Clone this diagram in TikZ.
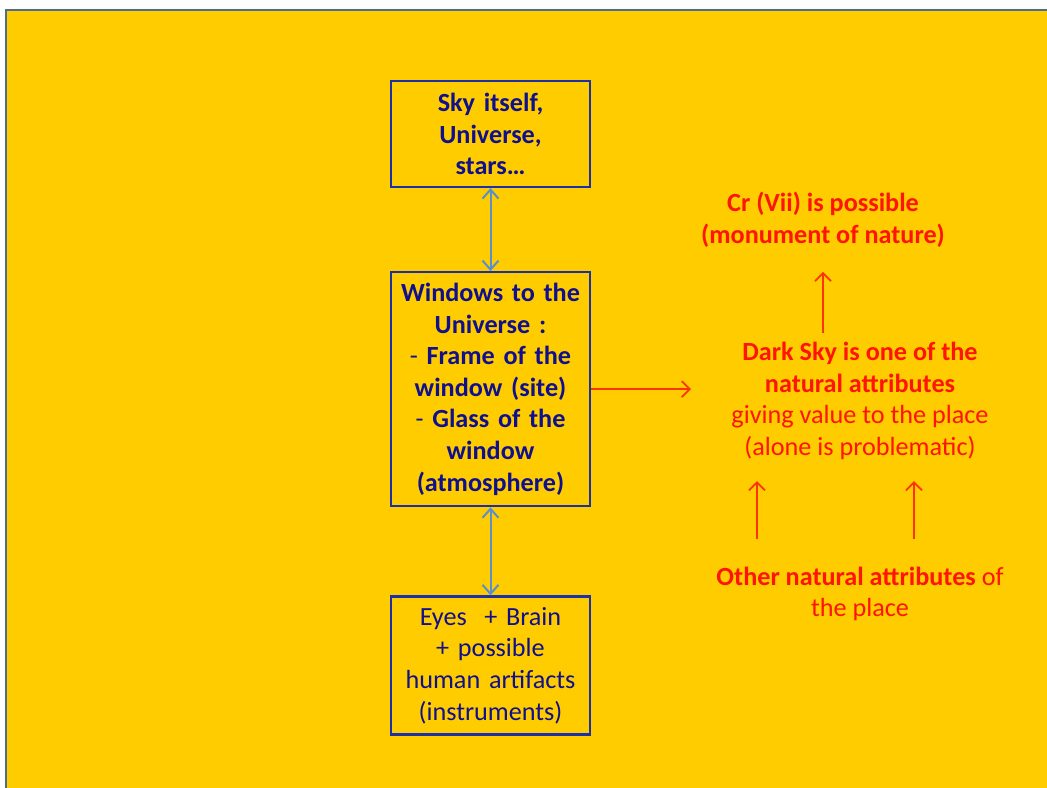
\documentclass[tikz,border=0pt]{standalone}
\usepackage{fontspec}
\setmainfont{Carlito}
\usepackage{xcolor}
\usetikzlibrary{positioning,arrows.meta,calc}
\definecolor{bgyellow}{HTML}{FFCC00}
\definecolor{framegray}{HTML}{4D6D8C}
\definecolor{boxblue}{HTML}{1C30A8}
\definecolor{navy}{HTML}{10108C}
\definecolor{skyarrow}{HTML}{5B8FC9}
\definecolor{redtext}{HTML}{FF1400}
\definecolor{redarrow}{HTML}{FF3300}

\begin{document}
\begin{tikzpicture}[x=0.5pt, y=-0.5pt,
  box/.style={draw=boxblue, line width=1.1pt, text width=96pt, minimum width=99.5pt, align=center,
    text=navy, font=\fontsize{13.1}{15.8}\selectfont, inner sep=1.5pt},
  lbl/.style={text=redtext, align=center, font=\fontsize{13.1}{15.8}\selectfont, inner sep=2pt},
  barr/.style={draw=skyarrow, line width=1pt, {Straight Barb[length=4.5pt, width=8pt]}-{Straight Barb[length=4.5pt, width=8pt]}},
  rarr/.style={draw=redarrow, line width=0.9pt, -{Straight Barb[length=4pt, width=8pt]}}]
\useasboundingbox (0,0) rectangle (1047,787);
\fill[white] (0,0) rectangle (1047,787);
\draw[framegray, line width=1pt, fill=bgyellow] (5.5,9.5) rectangle (1060,800);
% left column
\node[box, minimum height=53pt] (sky) at (490.5,134) {\bfseries Sky itself,\\ Universe,\\ stars\ldots};
\node[box, minimum height=117pt, below=41.5pt of sky] (win) {\bfseries Windows to the\\ Universe :\\
  \mdseries - \bfseries Frame of the\\ window (site)\\ \mdseries - \bfseries Glass of the\\ window\\ (atmosphere)};
\node[box, minimum height=69pt, below=44pt of win] (eyes) {Eyes~ + Brain\\ + possible\\ human artifacts\\ (instruments)};
\draw[barr] (sky) -- (win);
\draw[barr] (win) -- (eyes);
% right column
\node[lbl, font=\fontsize{13.1}{15.8}\selectfont\bfseries] (cr) at (823,220) {Cr (Vii) is possible\\ (monument of nature)};
\node[lbl] (dark) at (860,401) {\bfseries Dark Sky is one of the\\ \bfseries natural attributes\\ giving value to the place\\ (alone is problematic)};
\node[lbl] (other) at (860,594) {\bfseries Other natural attributes \mdseries of\\ the place};
\draw[rarr, shorten >=18pt] (win.east) -- (dark.west |- win.east);
\draw[rarr, shorten <=2.5pt, shorten >=10pt] (dark.north -| cr) -- (cr.south);
\draw[rarr, shorten <=12pt, shorten >=8.5pt] ([xshift=-51.5pt]other.north) -- ([xshift=-51.5pt]other.north |- dark.south);
\draw[rarr, shorten <=12pt, shorten >=8.5pt] ([xshift=27pt]other.north) -- ([xshift=27pt]other.north |- dark.south);
\end{tikzpicture}
\end{document}
